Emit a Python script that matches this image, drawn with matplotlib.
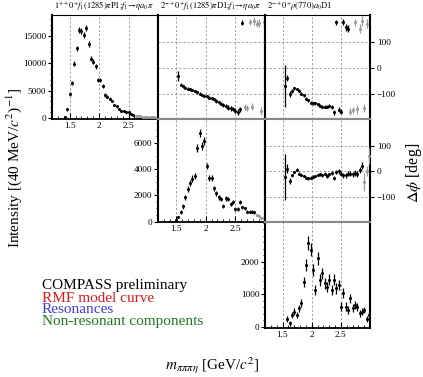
import numpy as np
import matplotlib
matplotlib.use("Agg")
import matplotlib.pyplot as plt
from matplotlib.ticker import MultipleLocator

plt.rcParams['font.family'] = ['Liberation Serif', 'DejaVu Serif']
plt.rcParams['mathtext.fontset'] = 'stix'

nan = np.nan
MASS = [1.42, 1.46, 1.50, 1.54, 1.58, 1.62, 1.66, 1.70, 1.74, 1.78, 1.82, 1.86, 1.90, 1.94,
        1.98, 2.02, 2.06, 2.10, 2.14, 2.18, 2.22, 2.26, 2.30, 2.34, 2.38, 2.42, 2.46, 2.50,
        2.54, 2.58, 2.62, 2.66, 2.70, 2.74, 2.78, 2.82, 2.86, 2.90, 2.94, 2.98]

TITLES = [r"$1^{++}0^{+}f_1(1285)\pi$P1;$f_1\!\rightarrow\!\eta a_0\pi$",
          r"$2^{-+}0^{+}f_1(1285)\pi$D1;$f_1\!\rightarrow\!\eta a_0\pi$",
          r"$2^{-+}0^{+}\rho(770)a_0$D1"]

# Intensities
int_f1P = [200, 1600, 4400, 6350, 9900, 12700, 16100, 15800, 15200, 16400, 13500, 10800, 10300, 9400,
           6960, 6900, 5860, 4200, 3900, 3480, 3100, 2380, 2100, 1700, 1200, 1350, 1000, 1000,
           800, 500, 400, 320, 260, 220, 180, 150, 120, 100, 80, 60]
err_f1P = [100, 300, 350, 400, 450, 500, 550, 550, 550, 550, 500, 450, 450, 400,
           350, 350, 330, 300, 300, 280, 260, 240, 220, 200, 180, 180, 160, 160,
           150, 130, 110, 100, 90, 80, 70, 60, 50, 50, 40, 40]

int_f1D = [nan, nan, 100, 350, 700, 1160, 1840, 2470, 2920, 3270, 3470, 5610, 6750, 5740,
           6110, 4230, 3350, 3350, 2520, 2170, 1840, 1710, 1210, 1770, 1710, 1340, 1510, 960,
           960, 1460, 1090, 1000, 760, 760, 760, 700, 500, 400, 300, 250]
err_f1D = [nan, nan, 60, 100, 150, 180, 200, 220, 230, 240, 250, 300, 320, 300,
           300, 260, 230, 230, 200, 190, 180, 170, 150, 170, 170, 150, 150, 130,
           130, 150, 130, 120, 100, 100, 100, 90, 80, 70, 60, 60]

int_rho = [nan, nan, nan, nan, 237, 100, 360, 460, 360, 565, 720, 1385, 1900, 2570,
           2360, 1745, 1130, 2100, 1440, 1640, 1330, 1230, 1440, 1130, 1440, 1180, 1280, 615,
           1030, 615, 510, 870, 565, 670, 615, 410, 460, 510, 237, 360]
err_rho = [nan, nan, nan, nan, 80, 80, 90, 100, 100, 110, 120, 150, 180, 220,
           200, 180, 150, 200, 180, 180, 170, 160, 170, 160, 170, 160, 160, 130,
           150, 130, 120, 140, 120, 120, 120, 100, 100, 100, 90, 90]

# Phases
ph_01 = [nan, nan, nan, -32, -66, -72, -76, -80, -83, -85, -90, -95, -100, -104,
         -108, -110, -115, -118, -122, -128, -133, -138, -144, -148, -153, -156, -159, -165,
         -170, -160, 174, -150, -155, 175, -150, 180, 170, 172, -165, 175]
phe_01 = [nan, nan, nan, 20, 6, 5, 5, 5, 5, 5, 5, 5, 5, 5,
          5, 5, 5, 5, 6, 6, 6, 7, 7, 8, 8, 9, 9, 10,
          10, 10, 10, 12, 12, 12, 14, 14, 14, 16, 16, 16]

ph_02 = [nan, nan, nan, -69, -40, -100, -88, -79, -81, -88, -100, -106, -119, -125,
         -134, -137, -137, -141, -146, -150, -150, -150, -146, -150, -172, 175, -162, -169,
         175, 155, 150, -169, -162, 175, -160, 150, 180, -155, 170, nan]
phe_02 = [nan, nan, nan, 80, 12, 12, 8, 6, 5, 5, 5, 5, 5, 5,
          5, 5, 5, 5, 6, 6, 6, 6, 6, 7, 10, 10, 10, 10,
          12, 14, 14, 14, 12, 14, 16, 18, 18, 16, 18, nan]

ph_12 = [nan, nan, nan, -21, 10, -37, -15, -3, 6, -9, -15, -19, -25, -27,
         -25, -21, -19, -15, -12, -15, -9, -19, -12, -6, -25, -3, 0, -9,
         -15, -15, -9, -9, -12, -6, -9, 4, 22, -40, 0, 60]
phe_12 = [nan, nan, nan, 90, 18, 12, 6, 5, 5, 5, 5, 5, 5, 5,
          5, 5, 5, 5, 6, 6, 6, 7, 7, 8, 8, 9, 9, 10,
          10, 10, 10, 11, 11, 12, 12, 12, 14, 35, 20, 30]

W, H = 423, 377
fig = plt.figure(figsize=(W / 100, H / 100), dpi=100)

def add(x0, y0, x1, y1):
    return fig.add_axes([x0 / W, 1 - y1 / H, (x1 - x0) / W, (y1 - y0) / H])

cols = [(52, 158), (158, 265), (265, 370)]
rows = [(15, 119), (119, 222), (222, 328)]

GRAY = '#9a9a9a'
GRID = dict(color='#8a8a8a', linestyle=(0, (2.5, 2.5)), linewidth=0.6)
m = np.array(MASS)

def draw_points(ax, y, e, gray_from):
    y = np.array(y, dtype=float)
    e = np.array(e, dtype=float)
    dark = m < gray_from
    light = m >= gray_from
    for mask, c in ((dark, 'black'), (light, GRAY)):
        ax.errorbar(m[mask], y[mask], yerr=e[mask], fmt='o', ms=1.2, color=c,
                    ecolor=c, elinewidth=0.9, capsize=0, zorder=3)

def frame(ax, row, diag):
    for s in ('left', 'right'):
        ax.spines[s].set_color('black')
        ax.spines[s].set_linewidth(1.5)
    if row == 0:
        ax.spines['top'].set_color('black')
        ax.spines['top'].set_linewidth(0.8)
    else:
        ax.spines['top'].set_color('#888888')
        ax.spines['top'].set_linewidth(1.5)
    if diag:
        ax.spines['bottom'].set_color('black')
        ax.spines['bottom'].set_linewidth(1.3)
    else:
        ax.spines['bottom'].set_color('#888888')
        ax.spines['bottom'].set_linewidth(1.5)
    ax.set_xlim(1.2, 3.0)
    ax.set_xticks([1.5, 2.0, 2.5])

TFS = 6.7

def intensity_panel(ax, row, y, e, ylim, major, minor, gray_from):
    frame(ax, row, True)
    draw_points(ax, y, e, gray_from)
    ax.set_ylim(*ylim)
    ax.set_yticks(major)
    ax.yaxis.set_minor_locator(MultipleLocator(minor))
    ax.xaxis.set_minor_locator(MultipleLocator(0.1))
    ax.set_xticklabels(['1.5', '2', '2.5'])
    ax.tick_params(axis='x', which='both', direction='in', labelsize=TFS, pad=2)
    ax.tick_params(axis='x', which='major', length=4, width=0.8)
    ax.tick_params(axis='x', which='minor', length=2, width=0.6)
    ax.tick_params(axis='y', which='both', direction='out', labelsize=TFS, pad=1)
    ax.tick_params(axis='y', which='major', length=3, width=0.8)
    ax.tick_params(axis='y', which='minor', length=1.5, width=0.6)
    ax.grid(True, axis='x', **GRID)
    ax.set_axisbelow(True)

def phase_panel(ax, row, y, e, gray_from, labels):
    frame(ax, row, False)
    draw_points(ax, y, e, gray_from)
    ax.set_ylim(-197, 203)
    ax.set_yticks([-100, 0, 100])
    ax.tick_params(axis='x', which='both', length=0, labelbottom=False)
    if labels:
        ax.yaxis.tick_right()
        ax.set_yticklabels(['\u2212100', '0', '100'])
        ax.tick_params(axis='y', direction='out', length=3, width=0.8,
                       labelsize=TFS, pad=2)
    else:
        ax.tick_params(axis='y', length=0, labelleft=False)
    ax.grid(True, axis='both', **GRID)
    ax.set_axisbelow(True)

a00 = add(cols[0][0], rows[0][0], cols[0][1], rows[0][1])
a01 = add(cols[1][0], rows[0][0], cols[1][1], rows[0][1])
a02 = add(cols[2][0], rows[0][0], cols[2][1], rows[0][1])
a11 = add(cols[1][0], rows[1][0], cols[1][1], rows[1][1])
a12 = add(cols[2][0], rows[1][0], cols[2][1], rows[1][1])
a22 = add(cols[2][0], rows[2][0], cols[2][1], rows[2][1])

intensity_panel(a00, 0, int_f1P, err_f1P, (-200, 18800), [0, 5000, 10000, 15000], 1000, 2.62)
intensity_panel(a11, 1, int_f1D, err_f1D, (-30, 7800), [0, 2000, 4000, 6000], 500, 2.86)
intensity_panel(a22, 2, int_rho, err_rho, (-40, 3220), [0, 1000, 2000], 200, 9.0)

phase_panel(a01, 0, ph_01, phe_01, 2.66, False)
phase_panel(a02, 0, ph_02, phe_02, 2.66, True)
phase_panel(a12, 1, ph_12, phe_12, 2.90, True)

for i, (ax, t) in enumerate(zip([a00, a01, a02], TITLES)):
    ax.text(0.02, 1.02, t, transform=ax.transAxes, ha='left', va='bottom',
            fontsize=6.1)

fig.text(14 / W, 1 - 168 / H, r"Intensity [(40 MeV/$c^2$)$^{-1}$]", rotation=90,
         ha='center', va='center', fontsize=11)
fig.text(414 / W, 1 - 173 / H, r"$\Delta\phi$ [deg]", rotation=90,
         ha='center', va='center', fontsize=11.5)
fig.text(212 / W, 1 - 366 / H, r"$m_{\pi\pi\pi\eta}$ [GeV/$c^2$]",
         ha='center', va='center', fontsize=11)

LEGEND = ["COMPASS preliminary", "RMF model curve", "Resonances", "Non-resonant components"]
LCOLORS = ['black', '#e8161b', '#3b3bef', '#1e7a1e']
for k, (txt, c) in enumerate(zip(LEGEND, LCOLORS)):
    yb = [289, 301.5, 313, 325][k]
    fig.text(42 / W, 1 - yb / H, txt, color=c, fontsize=11, ha='left', va='baseline')

fig.savefig("out.png", dpi=100)
